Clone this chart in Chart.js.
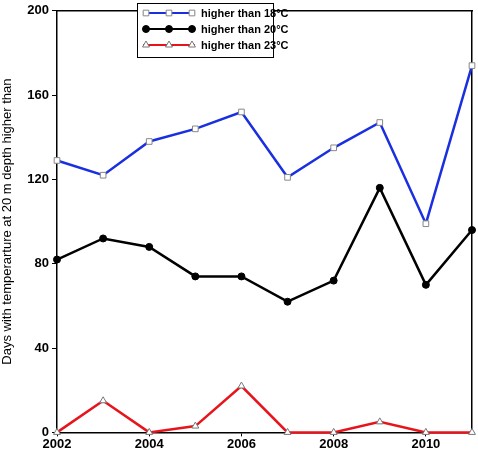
<!DOCTYPE html>
<html>
<head>
<script src="https://cdn.jsdelivr.net/npm/chart.js@4"></script>
<style>html,body{margin:0;padding:0;background:#fff}</style>
</head>
<body>
<div style="width:478px;height:452px"><canvas id="myChart"></canvas></div>
<script>
const years = [2002, 2003, 2004, 2005, 2006, 2007, 2008, 2009, 2010, 2011]
const above18 = [129, 122, 138, 144, 152, 121, 135, 147, 99, 174]
const above20 = [82, 92, 88, 74, 74, 62, 72, 116, 70, 96]
const above23 = [0, 15, 0, 3, 22, 0, 0, 5, 0, 0]
const yTicks = [0, 40, 80, 120, 160, 200]

const series = [
    {label: 'higher than 18°C', data: above18, color: '#1a2fe0', point: 'rect', fill: '#fff', pointColor: '#888', size: 4},
    {label: 'higher than 20°C', data: above20, color: '#000', point: 'circle', fill: '#000', pointColor: '#000', size: 3.5},
    {label: 'higher than 23°C', data: above23, color: '#e8141c', point: 'triangle', fill: '#fff', pointColor: '#777', size: 4}
]

// legend with line + marker, drawn inside the plot
const boxLegend = {
    id: 'boxLegend',
    afterDraw(chart) {
        const c = chart.ctx
        const x0 = 137, y0 = 3, w = 136, h = 54
        c.save()
        c.fillStyle = '#fff'
        c.fillRect(x0, y0, w, h)
        c.strokeStyle = '#000'
        c.lineWidth = 1
        c.strokeRect(x0 + 0.5, y0 + 0.5, w, h)
        series.forEach((s, i) => {
            const y = y0 + 10 + i * 16
            c.strokeStyle = s.color
            c.lineWidth = 2
            c.beginPath(); c.moveTo(x0 + 6, y); c.lineTo(x0 + 58, y); c.stroke()
            ;[x0 + 9, x0 + 32, x0 + 55].forEach(px => {
                c.fillStyle = s.fill
                c.strokeStyle = s.pointColor
                c.lineWidth = 1
                Chart.helpers.drawPoint(c, {pointStyle: s.point, radius: s.size, borderWidth: 1, rotation: 0}, px, y)
            })
            c.fillStyle = '#000'
            c.font = 'bold 11px Arial, "Liberation Sans"'
            c.textBaseline = 'middle'
            c.fillText(s.label, x0 + 64, y + 1)
        })
        c.restore()
    }
}

new Chart(document.getElementById('myChart'), {
    type: 'line',
    data: {
        datasets: series.map(s => ({
            label: s.label,
            data: years.map((yr, i) => ({x: yr, y: s.data[i]})),
            borderColor: s.color,
            borderWidth: 2.5,
            pointStyle: s.point,
            pointRadius: s.size,
            pointBackgroundColor: s.fill,
            pointBorderColor: s.pointColor,
            pointBorderWidth: 1,
            tension: 0,
            clip: false
        }))
    },
    options: {
        responsive: true,
        maintainAspectRatio: false,
        animation: false,
        layout: {padding: {top: 0, right: 6, left: 0, bottom: 0}},
        plugins: {legend: {display: false}, tooltip: {enabled: false}},
        scales: {
            x: {
                type: 'linear', min: 2002, max: 2011,
                afterBuildTicks: a => { a.ticks = [2002, 2004, 2006, 2008, 2010].map(v => ({value: v})) },
                grid: {drawOnChartArea: false, color: '#000', tickLength: 4},
                border: {color: '#000', width: 1.5},
                ticks: {color: '#000', callback: v => String(v), font: {weight: 'bold', size: 13, family: 'Arial, "Liberation Sans"'}, padding: 0, maxRotation: 0}
            },
            x2: {
                type: 'linear', min: 2002, max: 2011, position: 'top',
                grid: {display: false}, ticks: {display: false}, border: {color: '#000', width: 1.5},
                afterFit: a => { a.height = 8 }
            },
            y: {
                min: 0, max: 200,
                afterBuildTicks: a => { a.ticks = yTicks.map(v => ({value: v})) },
                afterFit: a => { a.width = 57 },
                grid: {drawOnChartArea: false, color: '#000', tickLength: 5},
                border: {color: '#000', width: 1.5},
                ticks: {color: '#000', font: {weight: 'bold', size: 13, family: 'Arial, "Liberation Sans"'}, padding: 3},
                title: {display: true, text: 'Days with temperarture at 20 m depth higher than', color: '#000', font: {size: 13, family: 'Arial, "Liberation Sans"'}, padding: 0}
            },
            y2: {
                min: 0, max: 200, position: 'right',
                grid: {display: false}, ticks: {display: false}, border: {color: '#000', width: 1.5},
                afterFit: a => { a.width = 0 }
            }
        }
    },
    plugins: [boxLegend]
})
</script>
</body>
</html>
